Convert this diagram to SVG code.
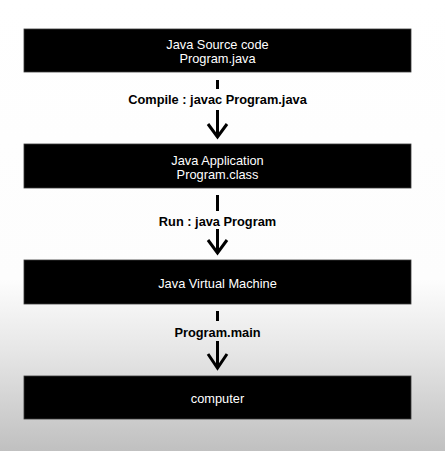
<svg xmlns="http://www.w3.org/2000/svg" width="445" height="451" viewBox="0 0 445 451">
  <defs>
    <linearGradient id="bg" x1="0" y1="0" x2="0" y2="451" gradientUnits="userSpaceOnUse">
      <stop offset="0" stop-color="#ffffff"/>
      <stop offset="0.62" stop-color="#fdfdfd"/>
      <stop offset="0.78" stop-color="#e6e6e6"/>
      <stop offset="1" stop-color="#c0c0c0"/>
    </linearGradient>
    <style>
      .box { fill: #000000; stroke: #3a3a3a; stroke-width: 0.8; }
      .nt { font-family: "Liberation Sans", Arial, Helvetica, sans-serif; font-size: 12.8px; fill: #ffffff; text-anchor: middle; }
      .lbl { font-family: "Liberation Sans", Arial, Helvetica, sans-serif; font-size: 12.8px; font-weight: bold; fill: #000000; text-anchor: middle; }
      .ln { stroke: #000000; stroke-width: 3; fill: none; }
    </style>
  </defs>
  <rect x="0" y="0" width="445" height="451" fill="url(#bg)"/>

  <g id="node-source">
    <rect class="box" x="24" y="29" width="387" height="43"/>
    <text class="nt" x="217.5" y="49">Java Source code</text>
    <text class="nt" x="217.5" y="63">Program.java</text>
  </g>
  <g id="node-application">
    <rect class="box" x="24" y="144" width="387" height="44"/>
    <text class="nt" x="217.5" y="165">Java Application</text>
    <text class="nt" x="217.5" y="179">Program.class</text>
  </g>
  <g id="node-jvm">
    <rect class="box" x="24" y="260" width="387" height="44"/>
    <text class="nt" x="217.5" y="287.5">Java Virtual Machine</text>
  </g>
  <g id="node-computer">
    <rect class="box" x="24" y="376" width="387" height="43"/>
    <text class="nt" x="217.5" y="402.5">computer</text>
  </g>

  <g id="connectors">
    <g id="edge-compile">
      <line class="ln" x1="217.5" y1="80" x2="217.5" y2="89"/>
      <text class="lbl" x="217.5" y="103.5">Compile : javac Program.java</text>
      <line class="ln" x1="217.5" y1="110" x2="217.5" y2="137"/>
      <polyline class="ln" points="208,124 217.5,137 227,124"/>
    </g>
    <g id="edge-run">
      <line class="ln" x1="217.5" y1="195" x2="217.5" y2="211"/>
      <text class="lbl" x="217.5" y="226">Run : java Program</text>
      <line class="ln" x1="217.5" y1="229" x2="217.5" y2="253"/>
      <polyline class="ln" points="208,240 217.5,253 227,240"/>
    </g>
    <g id="edge-main">
      <line class="ln" x1="217.5" y1="311" x2="217.5" y2="321"/>
      <text class="lbl" x="217.5" y="337">Program.main</text>
      <line class="ln" x1="217.5" y1="341" x2="217.5" y2="368"/>
      <polyline class="ln" points="208,354 217.5,368 227,354"/>
    </g>
  </g>
</svg>
